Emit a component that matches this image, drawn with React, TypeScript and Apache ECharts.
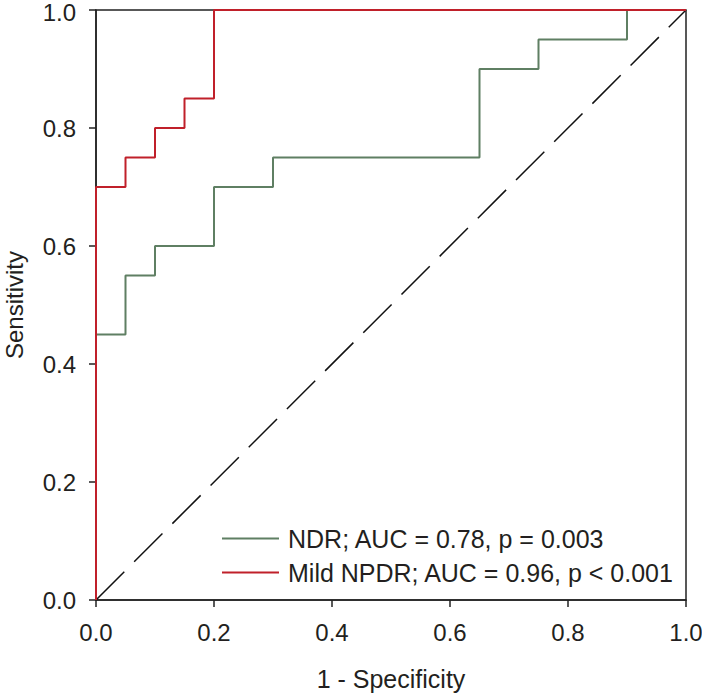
import React, { useEffect, useRef } from "react";
import * as echarts from "echarts";

const tickLabels = ["0.0", "0.2", "0.4", "0.6", "0.8", "1.0"];

// ROC curve vertices (1 - specificity, sensitivity)
const ndrFpr = [0, 0, 0.05, 0.05, 0.1, 0.1, 0.2, 0.2, 0.3, 0.3, 0.65, 0.65, 0.75, 0.75, 0.9, 0.9, 1.0];
const ndrTpr = [0, 0.45, 0.45, 0.55, 0.55, 0.6, 0.6, 0.7, 0.7, 0.75, 0.75, 0.9, 0.9, 0.95, 0.95, 1.0, 1.0];

const npdrFpr = [0, 0, 0.05, 0.05, 0.1, 0.1, 0.15, 0.15, 0.2, 0.2, 1.0];
const npdrTpr = [0, 0.7, 0.7, 0.75, 0.75, 0.8, 0.8, 0.85, 0.85, 1.0, 1.0];

const refFpr = [0, 1];
const refTpr = [0, 1];

const seriesNames = ["NDR; AUC = 0.78, p = 0.003", "Mild NPDR; AUC = 0.96, p < 0.001"];

const zip = (a: number[], b: number[]) => a.map((v, i) => [v, b[i]]);

const FONT = "'Liberation Sans', Arial, sans-serif";
const TEXT = "#231f20";

export default function App() {
  const ref = useRef<HTMLDivElement>(null);
  useEffect(() => {
    if (!ref.current) return;
    const chart = echarts.init(ref.current, null, { renderer: "svg" });
    const axisCommon = {
      type: "value" as const,
      min: 0,
      max: 1,
      interval: 0.2,
      axisLine: { show: true, lineStyle: { color: "#222", width: 1.5 } },
      axisTick: { show: true, inside: false, length: 7, lineStyle: { color: "#222", width: 1.5 } },
      splitLine: { show: false },
      nameLocation: "middle" as const,
      nameTextStyle: { fontFamily: FONT, fontSize: 25, color: TEXT, lineHeight: 22 },
    };
    chart.setOption({
      animation: false,
      grid: {
        left: 96,
        top: 10,
        right: 16,
        bottom: 94,
        containLabel: false,
        outerBoundsMode: "none",
        show: true,
        borderColor: "#222",
        borderWidth: 1.5,
        backgroundColor: "transparent",
      },
      xAxis: {
        ...axisCommon,
        name: "1 - Specificity",
        nameGap: 68,
        axisLabel: {
          margin: 20,
          fontFamily: FONT,
          fontSize: 24,
          color: TEXT,
          formatter: (v: number) => tickLabels[Math.round(v * 5)],
        },
      },
      yAxis: {
        ...axisCommon,
        name: "Sensitivity",
        nameGap: 72,
        nameTextStyle: { fontFamily: FONT, fontSize: 24, color: TEXT, lineHeight: 20 },
        axisLabel: {
          margin: 20,
          fontFamily: FONT,
          fontSize: 24,
          lineHeight: 20,
          color: TEXT,
          formatter: (v: number) => {
            const s = tickLabels[Math.round(v * 5)];
            return v >= 1 ? `{top|${s}}` : s;
          },
          rich: {
            top: { fontFamily: FONT, fontSize: 24, color: TEXT, lineHeight: 20, padding: [4, 0, 0, 0] },
          },
        },
      },
      legend: {
        data: seriesNames,
        orient: "vertical",
        left: 217,
        top: 521,
        icon: "rect",
        itemWidth: 57,
        itemHeight: 2,
        itemGap: 9,
        textStyle: { fontFamily: FONT, fontSize: 25, color: TEXT, padding: [0, 0, 0, 4] },
      },
      series: [
        {
          type: "line",
          name: "ref",
          data: zip(refFpr, refTpr),
          symbol: "none",
          lineStyle: { color: "#111", width: 1.5, type: [40, 14] },
          silent: true,
        },
        {
          type: "line",
          name: seriesNames[0],
          data: zip(ndrFpr, ndrTpr),
          symbol: "none",
          color: "#5f7f63",
          lineStyle: { color: "#5f7f63", width: 2 },
        },
        {
          type: "line",
          name: seriesNames[1],
          data: zip(npdrFpr, npdrTpr),
          symbol: "none",
          color: "#c0202a",
          lineStyle: { color: "#c0202a", width: 2 },
        },
      ],
    });
    return () => chart.dispose();
  }, []);
  return <div ref={ref} style={{ width: 702, height: 694, position: "absolute", left: 0, top: 0 }} />;
}
